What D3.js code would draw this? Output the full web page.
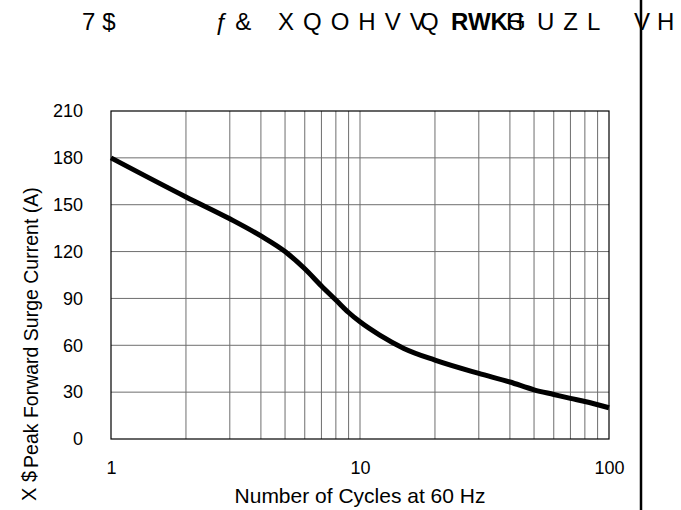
<!DOCTYPE html>
<html>
<head>
<meta charset="utf-8">
<script src="https://cdn.jsdelivr.net/npm/d3@7"></script>
<style>
    body { margin: 0; background: #fff; }
    svg { display: block; font-family: "Liberation Sans", Arial, sans-serif; }
</style>
</head>
<body>
<div id="chart"></div>
<script>
// Surge current derating curve (log x axis)

const width = 681;
const height = 510;

const margin = { top: 111, right: 72, bottom: 71, left: 111 };

// ---------- Data ----------
const cycles = [1, 2, 3, 4, 5, 6, 7, 8, 9, 10, 12, 15, 20, 30, 40, 50, 60, 70, 80, 100];
const surgeCurrent = [180, 155, 141, 130, 120, 109, 98, 89, 81, 75, 66.5, 58, 50.5, 42, 36.5, 31.5, 28.5, 26, 24, 20];

const yTicks = [0, 30, 60, 90, 120, 150, 180, 210];
const xTicks = [1, 10, 100];
const xGrid = [2, 3, 4, 5, 6, 7, 8, 9, 10, 20, 30, 40, 50, 60, 70, 80, 90];

const xLabel = "Number of Cycles at 60 Hz";
const yLabelMain = "Peak Forward Surge Current (A)";
const yLabelPrefix = "X $";

// ---------- SVG ----------
const svg = d3.select("#chart")
    .append("svg")
    .attr("width", width)
    .attr("height", height);

const xScale = d3.scaleLog()
    .domain([1, 100])
    .range([margin.left, width - margin.right]);

const yScale = d3.scaleLinear()
    .domain([0, 210])
    .range([height - margin.bottom, margin.top]);

// grid lines
svg.append("g")
    .selectAll("line")
    .data(xGrid)
    .join("line")
    .attr("x1", d => xScale(d))
    .attr("x2", d => xScale(d))
    .attr("y1", yScale(0))
    .attr("y2", yScale(210))
    .attr("stroke", "#6e6e6e")
    .attr("stroke-width", 1);

svg.append("g")
    .selectAll("line")
    .data(yTicks.slice(1, -1))
    .join("line")
    .attr("x1", xScale(1))
    .attr("x2", xScale(100))
    .attr("y1", d => yScale(d))
    .attr("y2", d => yScale(d))
    .attr("stroke", "#6e6e6e")
    .attr("stroke-width", 1);

// frame
svg.append("rect")
    .attr("x", xScale(1))
    .attr("y", yScale(210))
    .attr("width", xScale(100) - xScale(1))
    .attr("height", yScale(0) - yScale(210))
    .attr("fill", "none")
    .attr("stroke", "#000")
    .attr("stroke-width", 1.2);

// axes (labels only, no tick marks)
const yAxis = d3.axisLeft(yScale)
    .tickValues(yTicks)
    .tickSize(0)
    .tickPadding(28);

const xAxis = d3.axisBottom(xScale)
    .tickValues(xTicks)
    .tickFormat(d3.format("d"))
    .tickSize(0)
    .tickPadding(22);

svg.append("g")
    .attr("transform", `translate(${margin.left},0)`)
    .call(yAxis)
    .call(g => g.select(".domain").remove())
    .selectAll("text")
    .attr("font-size", 18)
    .attr("font-family", "Liberation Sans, Arial, sans-serif")
    .attr("fill", "#000");

svg.append("g")
    .attr("transform", `translate(0,${height - margin.bottom})`)
    .call(xAxis)
    .call(g => g.select(".domain").remove())
    .selectAll("text")
    .attr("font-size", 18)
    .attr("font-family", "Liberation Sans, Arial, sans-serif")
    .attr("fill", "#000");

// curve
const line = d3.line()
    .x((d, i) => xScale(cycles[i]))
    .y(d => yScale(d))
    .curve(d3.curveMonotoneX);

svg.append("path")
    .datum(surgeCurrent)
    .attr("fill", "none")
    .attr("stroke", "#000")
    .attr("stroke-width", 5)
    .attr("stroke-linejoin", "round")
    .attr("d", line);

// axis titles
svg.append("text")
    .attr("x", xScale(10))
    .attr("y", 503)
    .attr("text-anchor", "middle")
    .attr("font-size", 21)
    .text(xLabel);

const yTitle = svg.append("text")
    .attr("transform", "translate(36,501) rotate(-90)")
    .attr("font-size", 20);
yTitle.append("tspan").text(yLabelPrefix);
yTitle.append("tspan")
    .attr("font-size", 19.5)
    .attr("dx", 3)
    .attr("dy", 2)
    .text(yLabelMain);

// garbled header text, as it appears in the source
const header = svg.append("g").attr("font-size", 24);
header.append("text").attr("x", 82).attr("y", 29.5).attr("letter-spacing", 7).text("7$");
header.append("text").attr("x", 215).attr("y", 29.5).attr("letter-spacing", 7).text("ƒ&");
header.append("text").attr("x", 278).attr("y", 29.5).attr("letter-spacing", 9).text("XQOHVV");
header.append("text").attr("x", 420).attr("y", 29.5).text("Q");
header.append("text").attr("x", 451).attr("y", 29.5).attr("font-weight", "bold").text("RWK");
header.append("text").attr("x", 506).attr("y", 29.5).text("H");
header.append("text").attr("x", 507).attr("y", 29.5).text("G");
header.append("text").attr("x", 537).attr("y", 29.5).attr("letter-spacing", 9).text("UZL");
header.append("text").attr("x", 634).attr("y", 29.5).text("V");
header.append("text").attr("x", 657).attr("y", 29.5).text("H");

// right page rule
svg.append("line")
    .attr("x1", 641)
    .attr("x2", 641)
    .attr("y1", 0)
    .attr("y2", height)
    .attr("stroke", "#000")
    .attr("stroke-width", 2.5);
</script>
</body>
</html>
